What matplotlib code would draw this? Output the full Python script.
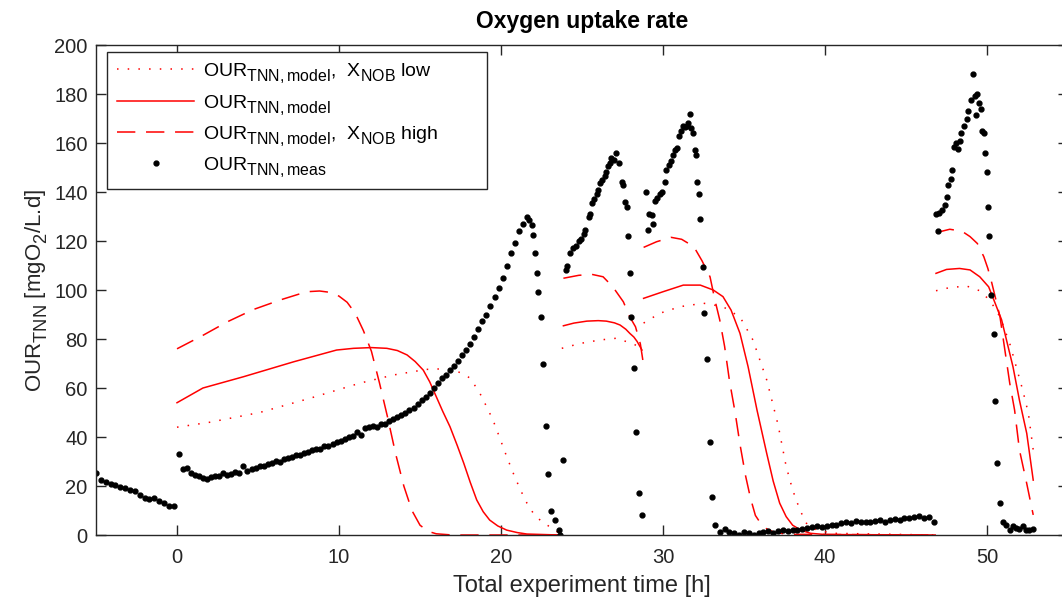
import numpy as np
import matplotlib
matplotlib.use("Agg")
import matplotlib.pyplot as plt

plt.rcParams['font.family'] = ['Liberation Sans', 'DejaVu Sans']
plt.rcParams['mathtext.fontset'] = 'custom'
plt.rcParams['mathtext.rm'] = 'Liberation Sans'
plt.rcParams['mathtext.it'] = 'Liberation Sans:italic'

# larger, lower subscripts, closer to the TeX interpreter look
try:
    import matplotlib._mathtext as _mt
    _mt.SHRINK_FACTOR = 0.82
    _mt.FontConstantsBase.sub1 = 0.5
except Exception:
    pass

# measured OUR [mgO2/L.d] vs time [h]
t_pre = [-5.0, -4.7, -4.4, -4.1, -3.8, -3.5, -3.2, -2.9, -2.6, -2.3, -2.0, -1.7,
         -1.4, -1.1, -0.8, -0.5, -0.2]
our_pre = [25.5, 22.5, 21.5, 21.0, 20.3, 19.8, 19.0, 18.5, 17.8, 16.3, 15.0, 14.6,
           15.2, 14.0, 13.0, 11.8, 12.0]

our_b1 = [33.0, 27.0, 27.5, 25.5, 24.5, 24.0, 23.3, 23.0, 23.5, 24.0, 24.2, 25.5,
          24.5, 25.0, 25.8, 25.5, 28.3, 26.3, 26.8, 27.5, 28.3, 28.0, 29.0, 29.5,
          30.3, 30.0, 31.0, 31.5, 32.0, 32.5, 32.8, 33.5, 34.0, 34.5, 35.0, 35.0,
          36.2, 36.5, 37.0, 38.0, 38.5, 39.0, 40.0, 40.5, 42.0, 41.0, 43.5, 44.0,
          44.5, 44.0, 45.5, 45.3, 46.5, 47.3, 48.0, 49.0, 50.0, 51.0, 52.0, 53.5,
          55.0, 56.5, 58.0, 60.0, 62.0, 64.0, 65.5, 67.5, 69.0, 71.0, 73.5, 75.5,
          78.0, 81.0, 84.0, 87.5, 90.0, 93.5, 97.0, 101.0, 105.0, 110.0, 115.0,
          119.0, 124.0, 127.0, 130.0]
t_b1 = list(0.1 + 0.25 * np.arange(len(our_b1)))
t_b1_drop = [21.75, 21.9, 22.0, 22.1, 22.2, 22.3, 22.45, 22.6, 22.75, 22.9, 23.1,
             23.35, 23.55, 23.65]
our_b1_drop = [128.5, 126.5, 122.5, 115, 107, 99, 89, 70, 44.5, 25, 10, 6, 2, 0]

t_b2 = [23.8, 24.0, 24.1, 24.25, 24.45, 24.65, 24.8, 24.95, 25.1, 25.2, 25.4, 25.5,
        25.6, 25.75, 25.9, 26.0, 26.1, 26.25, 26.4, 26.5, 26.6, 26.7, 26.8, 26.95,
        27.1, 27.3, 27.45, 27.55, 27.65, 27.75, 27.85, 27.95, 28.05, 28.2, 28.35,
        28.5, 28.7]
our_b2 = [30.5, 108, 110, 115, 117, 118, 120, 121, 123, 124.5, 130, 131, 135.5, 137,
          139, 141, 143.5, 145, 146.5, 148, 150.5, 152, 154, 153, 156, 152, 144,
          143, 136, 134, 122, 107, 89, 68, 42, 17, 8]

t_b3 = [28.95, 29.05, 29.15, 29.3, 29.4, 29.5, 29.65, 29.8, 29.95, 30.1, 30.2,
        30.35, 30.5, 30.6, 30.75, 30.85, 31.0, 31.1, 31.25, 31.35, 31.45, 31.55,
        31.65, 31.75, 31.85, 31.95, 32.05, 32.1, 32.2, 32.3, 32.45, 32.55, 32.7,
        32.9, 33.05, 33.2]
our_b3 = [140, 124.5, 131, 130.5, 127, 136.5, 137.5, 139, 140, 144, 149, 151, 152.5,
          155, 157, 158, 163, 165, 167, 166.5, 167, 168, 172, 166, 164, 157, 155,
          144, 139, 129, 109.5, 90.5, 72, 38, 15.5, 4]

our_idle = [1.4, 2.3, 1.4, 1.0, 0.2, 1.4, 1.0, 0.2, 1.0, 1.2, 1.5, 1.0, 1.6, 2.0,
            1.5, 2.2, 2.0, 2.6, 3.0, 3.4, 3.5, 3.2, 3.6, 4.2, 4.0, 4.8, 5.2, 5.0,
            5.6, 5.4, 5.5, 5.4, 5.8, 6.0, 5.3, 6.2, 6.4, 6.0, 7.0, 6.8, 7.4, 7.6,
            7.0, 7.3, 5.5]
t_idle = list(33.5 + 0.3 * np.arange(len(our_idle)))

t_b4 = [46.85, 46.95, 47.05, 47.25, 47.4, 47.5, 47.6, 47.75, 47.85, 47.95, 48.1,
        48.2, 48.3, 48.4, 48.6, 48.75, 48.85, 49.0, 49.15, 49.25, 49.3, 49.4, 49.5,
        49.6, 49.7, 49.8, 49.9, 50.0, 50.05, 50.15, 50.25, 50.4, 50.5, 50.6, 50.8,
        51.0, 51.2, 51.4, 51.6, 51.8, 52.0, 52.2, 52.4, 52.6, 52.85]
our_b4 = [131, 124, 131.5, 132.5, 134.5, 138, 143, 145.5, 149, 158.5, 160, 157.5,
          161, 164, 167, 170, 173, 177.5, 188, 179, 171.5, 180, 176.5, 174, 165,
          164, 156, 148, 134, 122, 98, 82, 54.5, 29.5, 13, 5.4, 4, 2, 3.5, 3, 2.5,
          3.5, 2, 2, 2.5]

t_meas = t_pre + t_b1 + t_b1_drop + t_b2 + t_b3 + t_idle + t_b4
our_meas = our_pre + our_b1 + our_b1_drop + our_b2 + our_b3 + our_idle + our_b4

# model runs per batch: (time, OUR) for low X_NOB, nominal, high X_NOB
model_low = [
    ([0, 2.0, 5.1, 8.2, 11.3, 13.35, 15.4, 16.3, 17.05, 17.6, 18.1, 18.7, 19.1,
      19.5, 19.9, 20.35, 20.8, 21.2, 21.6, 22.0, 22.5, 23.0, 23.6],
     [44, 46, 50, 55.8, 62, 65.3, 67.6, 67.8, 67.3, 66, 64, 57.8, 52.5, 47, 40,
      32, 24.5, 18.4, 13, 8.8, 5.5, 3.4, 0.7]),
    ([23.75, 24.9, 26.1, 27.1, 27.95, 28.5, 28.8],
     [76.2, 78.2, 79.6, 80.3, 78.5, 77, 75.5]),
    ([28.8, 29.8, 31.05, 32.5, 33.7, 34.75, 35.55, 36.4, 37.1, 37.6, 38.0, 38.45,
      38.85, 39.5, 40.5, 46.8],
     [86.5, 90.5, 93.2, 94.6, 93.2, 89, 79.6, 63.3, 45, 28, 18.4, 10.2, 4.8, 2,
      0.7, 0]),
    ([46.85, 47.7, 48.75, 49.55, 50.2, 50.8, 51.4, 51.8, 52.2, 52.55, 52.85],
     [99.7, 101, 101.6, 99.7, 95.6, 89, 78.2, 68.7, 59.2, 49.7, 34.7]),
]
model_mid = [
    ([0, 1.6, 4.1, 7.2, 9.85, 10.9, 12.0, 12.95, 13.6, 14.2, 14.7, 15.2, 15.6,
      16.0, 16.4, 16.85, 17.3, 17.7, 18.1, 18.5, 18.9, 19.3, 19.8, 20.35, 21.0,
      21.6, 23.6],
     [54, 60, 64.6, 70.7, 75.5, 76.2, 76.5, 76.2, 75.3, 73.5, 70.8, 67.3, 62.5,
      56.5, 50.5, 44.2, 36.5, 29.3, 21.5, 14.3, 9.5, 6.1, 3.7, 2.0, 1.0, 0.4, 0]),
    ([23.85, 24.5, 25.3, 26.0, 26.5, 27.0, 27.35, 27.7, 27.95, 28.2, 28.4, 28.7],
     [85.4, 86.5, 87.3, 87.5, 87.3, 86.6, 85.7, 84.0, 82.3, 80.8, 79, 75.5]),
    ([28.8, 30.0, 31.25, 32.3, 33.1, 33.7, 34.2, 34.75, 35.25, 35.8, 36.4, 36.8,
      37.2, 37.6, 38.0, 38.5, 39.1, 40, 46.8],
     [96.6, 99.3, 102, 102, 100, 97.3, 91.8, 82.3, 68.7, 51, 33.3, 22, 13, 7.5, 4,
      2, 0.7, 0.2, 0]),
    ([46.85, 47.5, 48.3, 48.95, 49.55, 50.1, 50.5, 50.9, 51.2, 51.6, 52.0, 52.45,
      52.85],
     [106.8, 108.4, 108.8, 108.2, 105.4, 101.3, 94.6, 87.8, 79.6, 68.7, 55, 41.5,
      22.4]),
]
model_high = [
    ([0, 1.6, 3.1, 4.7, 6.4, 8.0, 8.8, 9.5, 10.0, 10.5, 11.0, 11.5, 12.0, 12.5,
      13.0, 13.5, 14.0, 14.5, 15.0, 15.5, 16.0, 17.0, 23.6],
     [76, 81.5, 87, 92, 96, 99.3, 99.6, 99, 97.5, 95, 90.5, 83.5, 75, 62, 48, 33,
      20, 10, 4, 1.5, 0.5, 0, 0]),
    ([23.85, 24.8, 25.6, 26.3, 26.9, 27.55, 27.95, 28.3, 28.6, 28.8],
     [104.8, 106, 106.4, 105.4, 101.3, 95.2, 89, 85, 78, 69.4]),
    ([28.8, 29.6, 30.5, 31.15, 31.9, 32.4, 32.9, 33.2, 33.5, 33.8, 34.1, 34.45,
      34.75, 35.1, 35.4, 35.7, 36.0, 36.4, 36.8, 37.6, 46.8],
     [117.4, 119.7, 121.5, 120.7, 117.7, 112, 105.4, 96, 87.8, 77, 63, 50, 37, 24,
      15, 8, 5, 2.5, 1.3, 0.3, 0]),
    ([46.85, 47.7, 48.45, 48.95, 49.4, 49.8, 50.05, 50.3, 50.5, 50.8, 51.1, 51.4,
      51.7, 52.0, 52.45, 52.85],
     [123.4, 124.8, 124, 121.8, 119, 113.6, 108.8, 102.7, 97.3, 89, 75.5, 62, 51,
      34.7, 21, 8.2]),
]

fig = plt.figure(figsize=(10.62, 6.01), dpi=100)
ax = fig.add_axes([0.0904, 0.1098, 0.9153, 0.8153])

red = '#ff0000'
styles = [(model_low, (0, (1, 6)), r'OUR$_{\mathrm{TNN,model}}$,  X$_{\mathrm{NOB}}$ low'),
          (model_mid, '-', r'OUR$_{\mathrm{TNN,model}}$'),
          (model_high, (0, (12, 7)), r'OUR$_{\mathrm{TNN,model}}$,  X$_{\mathrm{NOB}}$ high')]
for runs, ls, lab in styles:
    for i, (tt, yy) in enumerate(runs):
        ax.plot(tt, yy, color=red, ls=ls, lw=1.1, label=lab if i == 0 else None)

ax.plot(t_meas, our_meas, ls='none', marker='o', ms=3.5, color='black',
        label=r'OUR$_{\mathrm{TNN,meas}}$')

ax.set_xlim(-5, 55)
ax.set_ylim(0, 200)
ax.set_xticks(range(0, 60, 10))
ax.set_yticks(range(0, 220, 20))
ax.tick_params(direction='in', length=7, width=1, top=True, right=True,
               labelsize=14.5, colors='#262626', pad=6)
ax.tick_params(axis='x', pad=9)
for sp in ax.spines.values():
    sp.set_color('#262626')
    sp.set_linewidth(1)

ax.set_xlabel('Total experiment time [h]', fontsize=17, color='#262626', labelpad=6)
ax.set_ylabel(r'OUR$_{\mathrm{TNN}}$ [mgO$_2$/L.d]', fontsize=16, color='#262626',
              labelpad=4)
ax.set_title('Oxygen uptake rate', fontsize=16.5, fontweight='bold', pad=12)

leg = ax.legend(loc='upper left', bbox_to_anchor=(0.0113, 0.0, 0.391, 0.9857),
                mode='expand', fontsize=14, handlelength=4.0, handletextpad=0.45,
                labelspacing=0.4, borderpad=0.5, borderaxespad=0, fancybox=False,
                framealpha=1, edgecolor='#262626')
leg.get_frame().set_linewidth(1)

fig.savefig('out.png', dpi=100)
